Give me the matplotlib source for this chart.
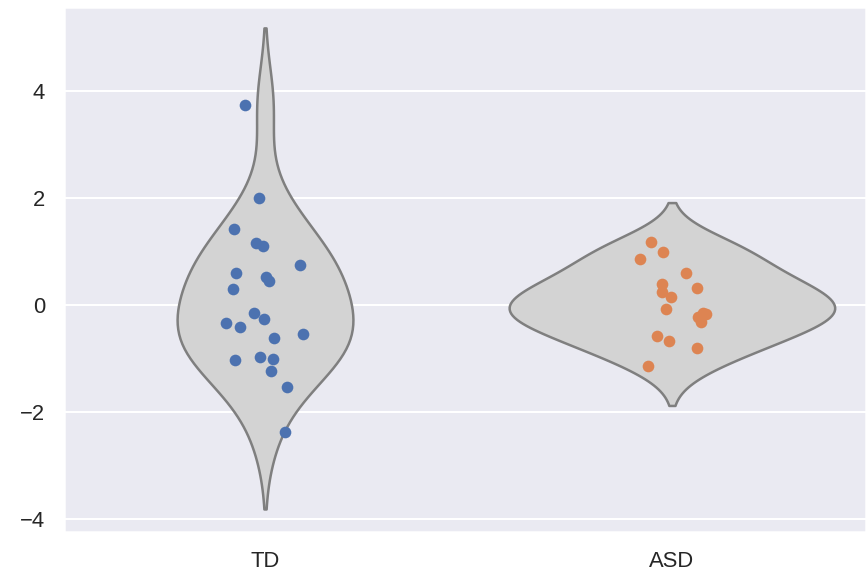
import numpy as np
import pandas as pd
import matplotlib
matplotlib.use("Agg")
import matplotlib.pyplot as plt
import seaborn as sns

# values
groups = ["TD", "ASD"]
td_values = [3.74, 2.00, 1.42, 1.16, 1.10, 0.75, 0.60, 0.52, 0.45, 0.30,
             -0.15, -0.26, -0.34, -0.41, -0.62, -0.54, -1.03, -0.97,
             -1.01, -1.23, -1.53, -2.37]
td_jitter = [-0.049, -0.015, -0.076, -0.022, -0.005, 0.086, -0.071, 0.002,
             0.010, -0.079, -0.027, -0.002, -0.096, -0.061, 0.022, 0.093,
             -0.074, -0.012, 0.020, 0.015, 0.054, 0.049]
asd_values = [1.18, 0.99, 0.86, 0.60, 0.39, 0.32, 0.24, 0.15, -0.07, -0.15,
              -0.22, -0.32, -0.58, -0.67, -0.80, -1.14, -0.17]
asd_jitter = [-0.052, -0.022, -0.079, 0.034, -0.025, 0.061, -0.025, -0.002,
              -0.015, 0.076, 0.064, 0.071, -0.037, -0.007, 0.061, -0.059,
              0.084]

sns.set_theme(style="darkgrid")
plt.rcParams["font.family"] = ["Liberation Sans", "DejaVu Sans"]

df = pd.DataFrame({
    "group": ["TD"] * len(td_values) + ["ASD"] * len(asd_values),
    "value": td_values + asd_values,
})

fig = plt.figure(figsize=(866 / 144, 573 / 144), dpi=144)
ax = fig.add_axes([64 / 866, 41 / 573, 802 / 866, 525 / 573])

sns.violinplot(data=df, x="group", y="value", order=groups,
               color="lightgray", inner=None, ax=ax)

pal = sns.color_palette("deep")
for i, (vals, jit) in enumerate([(td_values, td_jitter),
                                 (asd_values, asd_jitter)]):
    ax.scatter(i + np.array(jit), vals, s=34, color=pal[i],
               linewidth=0, zorder=3)

ax.set_xlim(-0.494, 1.477)
ax.set_ylim(-4.24, 5.57)
ax.set_yticks([-4, -2, 0, 2, 4])
ax.set_xlabel("")
ax.set_ylabel("")

fig.savefig("out.png", dpi=144)
